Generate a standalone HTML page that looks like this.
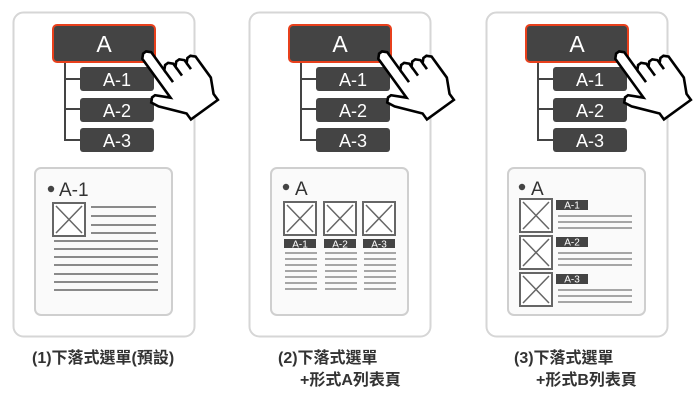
<!DOCTYPE html>
<html><head><meta charset="utf-8"><style>
html,body{margin:0;padding:0;background:#fff;}
svg{display:block;font-family:"Liberation Sans","Noto Sans CJK TC",sans-serif;}
</style></head><body>
<svg width="697" height="402" viewBox="0 0 697 402" xmlns="http://www.w3.org/2000/svg">
<defs>
<g id="hand">
<g transform="translate(176,80) rotate(-36) scale(3.7) translate(-9,-11)" fill="#fff" stroke="#000" stroke-width="0.7" stroke-linejoin="miter">
<path d="M5,1 L6,0 L7,0 L8,1 L8,7 L9,6 L10,6 L11,7 L11,8 L12,7 L13,7 L14,8 L14,9 L15,8 L16,8 L17,9 L17,16 L15,20 L15,22 L6,22 L6,20 L1,14 L0,12 L1,11 L2,11 L5,14 Z"/>
<path d="M8,7 L8,11 M11,8 L11,11 M14,9 L14,11" fill="none"/>
</g>
</g>
<g id="imgbox">
<rect x="1" y="1" width="32" height="33" fill="#fff" stroke="#666" stroke-width="2"/>
<path d="M4,4 L30,31 M30,4 L4,31" stroke="#666" stroke-width="1.5"/>
</g>
</defs>

<g id="p1">
<rect x="13.5" y="12.5" width="181" height="324" rx="10" fill="#fff" stroke="#d6d6d6" stroke-width="2"/>
<path d="M65 62 V140 H80 M65 79 H80 M65 109 H80" stroke="#444" stroke-width="2" fill="none"/>
<rect x="53" y="25" width="102" height="37" rx="4" fill="#444" stroke="#e8401c" stroke-width="2"/>
<text x="104" y="52" font-size="23" fill="#fff" text-anchor="middle">A</text>
<rect x="80" y="67" width="74" height="24" rx="3" fill="#444"/>
<text x="117" y="86" font-size="18" fill="#fff" text-anchor="middle">A-1</text>
<rect x="80" y="98" width="74" height="24" rx="3" fill="#444"/>
<text x="117" y="117" font-size="18" fill="#fff" text-anchor="middle">A-2</text>
<rect x="80" y="128" width="74" height="24" rx="3" fill="#444"/>
<text x="117" y="147" font-size="18" fill="#fff" text-anchor="middle">A-3</text>
<rect x="35" y="168" width="137" height="147" rx="6" fill="#fafafa" stroke="#cfcfcf" stroke-width="2"/>
</g>
<use href="#p1" x="236"/>
<use href="#p1" x="473"/>
<use href="#hand"/>
<use href="#hand" x="236"/>
<use href="#hand" x="473"/>

<circle cx="51" cy="189" r="3.2" fill="#444"/>
<text x="59" y="196" font-size="19" fill="#333">A-1</text>
<use href="#imgbox" x="52" y="202"/>
<g stroke="#8a8a8a" stroke-width="2">
<path d="M91 207H156 M91 216H156 M91 225H156 M91 233H156 M54 241H158 M54 249H158 M54 257H158 M54 265H158 M54 274H158 M54 282H158 M54 290H158"/>
</g>

<circle cx="286" cy="187" r="3.2" fill="#444"/>
<text x="295" y="195" font-size="19" fill="#333">A</text>
<use href="#imgbox" x="283" y="201"/>
<use href="#imgbox" x="323" y="201"/>
<use href="#imgbox" x="362" y="201"/>
<rect x="284" y="239" width="32" height="9" fill="#444"/>
<rect x="324" y="239" width="32" height="9" fill="#444"/>
<rect x="363" y="239" width="32" height="9" fill="#444"/>
<text x="300" y="247.5" font-size="10" fill="#fff" text-anchor="middle">A-1</text>
<text x="340" y="247.5" font-size="10" fill="#fff" text-anchor="middle">A-2</text>
<text x="379" y="247.5" font-size="10" fill="#fff" text-anchor="middle">A-3</text>
<g stroke="#8a8a8a" stroke-width="1.5">
<path d="M285 253H317 M285 259H317 M285 265H317 M285 271H317 M285 277H317 M285 283H317 M285 289H317
M325 253H357 M325 259H357 M325 265H357 M325 271H357 M325 277H357 M325 283H357 M325 289H357
M364 253H396 M364 259H396 M364 265H396 M364 271H396 M364 277H396 M364 283H396 M364 289H396"/>
</g>

<circle cx="522" cy="187" r="3.2" fill="#444"/>
<text x="531" y="195" font-size="19" fill="#333">A</text>
<use href="#imgbox" x="519" y="198"/>
<use href="#imgbox" x="519" y="235"/>
<use href="#imgbox" x="519" y="272"/>
<rect x="556" y="200" width="32" height="10" fill="#444"/>
<rect x="556" y="237" width="32" height="10" fill="#444"/>
<rect x="556" y="274" width="32" height="10" fill="#444"/>
<text x="572" y="208.5" font-size="10" fill="#fff" text-anchor="middle">A-1</text>
<text x="572" y="245.5" font-size="10" fill="#fff" text-anchor="middle">A-2</text>
<text x="572" y="282.5" font-size="10" fill="#fff" text-anchor="middle">A-3</text>
<g stroke="#8a8a8a" stroke-width="1.5">
<path d="M558 216H632 M558 222H632 M558 228H632 M558 253H632 M558 259H632 M558 265H632 M558 290H632 M558 296H632 M558 302H632"/>
</g>

<g font-size="16" font-weight="bold" fill="#333">
<text x="32" y="363">(1)下落式選單(預設)</text>
<text x="278" y="363">(2)下落式選單</text>
<text x="300" y="385">+形式A列表頁</text>
<text x="514" y="363">(3)下落式選單</text>
<text x="536" y="385">+形式B列表頁</text>
</g>
</svg>
</body></html>
